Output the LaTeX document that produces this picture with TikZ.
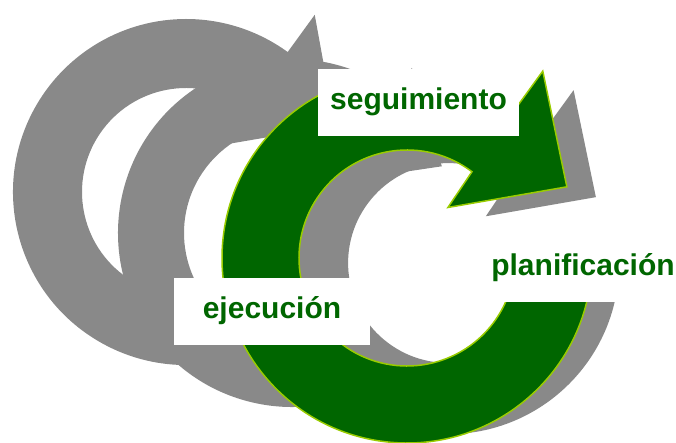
\documentclass[tikz,border=0pt]{standalone}
\usepackage{fontspec}
\setmainfont{Liberation Sans}

\definecolor{leafgreen}{HTML}{006600}
\definecolor{limeline}{HTML}{99CC00}
\definecolor{cyclegray}{HTML}{898989}

% ring arrow round the origin: start angle, outer radius, inner radius, head length
\newcommand{\cyclearrow}[4]{%
  (#1:#2) arc[start angle=#1, end angle=306, radius=#2]
  -- (306:{#2+#4}) -- (336:{#2-10}) -- (309:{#3-43}) -- (307:#3)
  arc[start angle=307, end angle=#1, radius=#3] -- cycle}

\begin{document}
\begin{tikzpicture}
        [
            x                 = 1pt,
            y                 = -1pt,
            backarrow/.style  = {fill=cyclegray},
            greenarrow/.style = {fill=leafgreen, draw=limeline, line width=1.5},
            labelbox/.style   = {fill=white, text=leafgreen, inner sep=0pt,
                                 minimum height=67, text height=22, text depth=7,
                                 font=\bfseries\fontsize{30}{36}\selectfont},
        ]
        \useasboundingbox (0,0) rectangle (676,443);
        % two grey arrows behind
        \path[backarrow, shift={(186,192)}] \cyclearrow{30}{173}{104}{46};
        \path[backarrow, shift={(292,233)}] \cyclearrow{55}{174}{108}{30};
        % shadow and green arrow
        \path[backarrow, shift={(448,263)}, scale=0.925] \cyclearrow{5}{185}{108}{46};
        \path[greenarrow, shift={(407,258)}] \cyclearrow{5}{185}{108}{46};
        % labels
        \node [labelbox, minimum width=201] (seg) at (418.5,102.5) {seguimiento};
        \node [labelbox, minimum width=196] (plan) at (583,268.5) {planificación};
        \node [labelbox, minimum width=196] (ejec) at (272,311) {ejecución};
    \end{tikzpicture}
\end{document}
